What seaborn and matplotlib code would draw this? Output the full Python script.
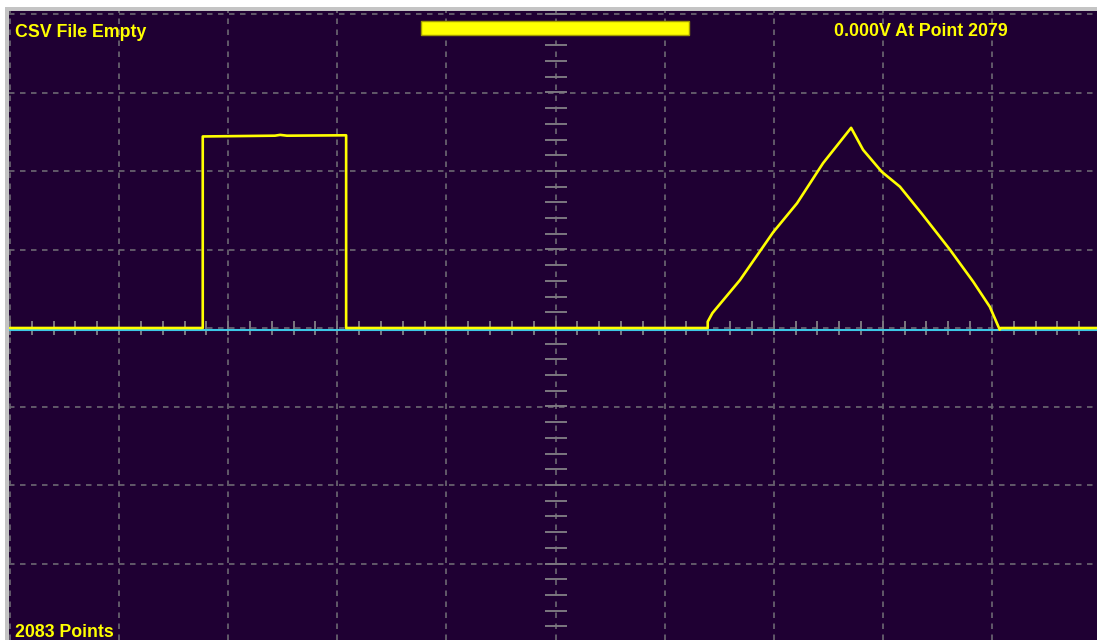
import numpy as np
import pandas as pd
import matplotlib
matplotlib.use("Agg")
import matplotlib.pyplot as plt
import matplotlib.transforms as mtransforms
from matplotlib.patches import Rectangle
import seaborn as sns

# ---- data (sample index, volts) ----
sample_idx = [0, 371, 371, 510, 520, 533, 647, 647, 1343, 1343, 1352, 1405, 1469, 1515,
              1565, 1619, 1642, 1678, 1713, 1757, 1809, 1854, 1886, 1905, 1907, 2092]
volts = [0.0, 0.0, 2.44, 2.45, 2.46, 2.45, 2.455, 0.0, 0.0, 0.08, 0.19, 0.61, 1.22, 1.59,
         2.10, 2.55, 2.27, 1.99, 1.80, 1.44, 1.00, 0.59, 0.27, -0.02, 0.0, 0.0]
title_left = "CSV File Empty"
title_right = "0.000V At Point 2079"
footer_left = "2083 Points"

points_per_div = 210
volts_per_div = 1.0
n_xdiv = 10
n_ydiv = 8

BG = "#1f0033"
GRID = "#6c6872"
TICK = "#7c7880"
YELLOW = "#ffff00"
CYAN = "#3cc8e6"

W, H = 1097, 640
sns.set_theme(style="white")
fig = plt.figure(figsize=(W / 100, H / 100), dpi=100)
fig.patch.set_facecolor("white")

# window frame strips
fig.patches.append(Rectangle((5 / W, 0), 4 / W, 1 - 7 / H, transform=fig.transFigure,
                             facecolor="#c4c4c4", edgecolor="none", zorder=0))
fig.patches.append(Rectangle((5 / W, 1 - 11 / H), 1, 4 / H, transform=fig.transFigure,
                             facecolor="#c4c4c4", edgecolor="none", zorder=0))

ax = fig.add_axes([9 / W, 0, (W - 9) / W, 1 - 11 / H])
ax.set_facecolor(BG)
for s in ax.spines.values():
    s.set_visible(False)

px_per_idx = 109.1 / points_per_div
xmin = -1 / px_per_idx
xmax = (W - 10) / px_per_idx
ymax = (328 - 11) / 78.5 * volts_per_div
ymin = (328 - 640) / 78.5 * volts_per_div
ax.set_xlim(xmin, xmax)
ax.set_ylim(ymin, ymax)
ax.set_xticks([])
ax.set_yticks([])

# dashed graticule
for k in range(n_xdiv + 1):
    ax.axvline(k * points_per_div, color=GRID, lw=1.2, ls=(0, (3.3, 3.3)), zorder=1)
for j in range(-n_ydiv // 2, n_ydiv // 2 + 1):
    ax.axhline(j * volts_per_div, color=GRID, lw=1.2, ls=(0, (3.3, 3.3)), zorder=1)

# minor ticks along center axes
cx = n_xdiv / 2 * points_per_div
hx = 11 / px_per_idx
hy = 7 / 78.5 * volts_per_div
for t in np.arange(0, n_xdiv * points_per_div + 1, points_per_div / 5):
    ax.plot([t, t], [-hy, hy], color=TICK, lw=1.4, zorder=2, solid_capstyle="butt")
for t in np.arange(-n_ydiv / 2, n_ydiv / 2 + 0.001, 0.2):
    ax.plot([cx - hx, cx + hx], [t * volts_per_div] * 2, color=TICK, lw=1.4, zorder=2,
            solid_capstyle="butt")

# ground reference (cyan), slightly offset below
off = mtransforms.offset_copy(ax.transData, fig=fig, x=0, y=-1.8, units="dots")
ax.plot([xmin, xmax], [0, 0], color=CYAN, lw=1.5, transform=off, zorder=3)

df = pd.DataFrame({"idx": sample_idx, "v": volts})
sns.lineplot(data=df, x="idx", y="v", sort=False, estimator=None, color=YELLOW,
             lw=1.9, ax=ax, zorder=4)
ax.set_xlabel("")
ax.set_ylabel("")

# top bar
fig.patches.append(Rectangle((421 / W, 1 - 34.7 / H), 268 / W, 14 / H,
                             transform=fig.transFigure, facecolor=YELLOW,
                             edgecolor="#a09a00", lw=1, zorder=5))

fkw = dict(color=YELLOW, fontweight="bold", fontsize=12.8, family="Liberation Sans",
           va="baseline", ha="left")
fig.text(15 / W, 1 - 37 / H, title_left, **fkw)
fig.text(834 / W, 1 - 36.5 / H, title_right, **fkw)
fig.text(15 / W, 1 - 637 / H, footer_left, **fkw)

fig.savefig("out.png", dpi=100, facecolor=fig.get_facecolor())
